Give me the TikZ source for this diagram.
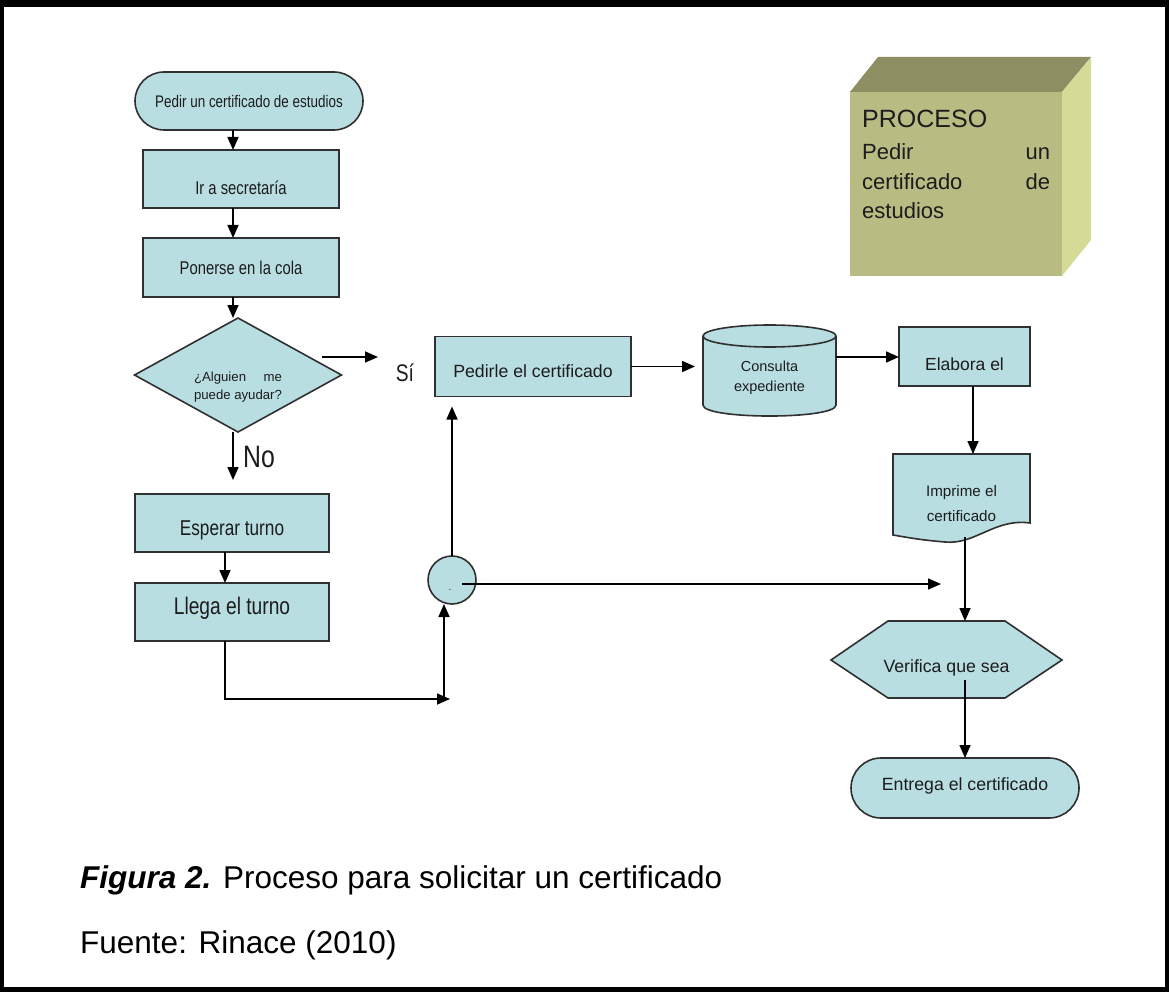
\documentclass[tikz,border=0pt]{standalone}
\usepackage{fontspec}
\setmainfont{Liberation Sans}
\newfontfamily\condfont{Liberation Sans}[FakeStretch=0.8]
\usetikzlibrary{arrows.meta}
\pgfdeclarelayer{back}
\pgfdeclarelayer{background}
\pgfsetlayers{back,background,main}
\definecolor{boxfill}{RGB}{185,222,226}
\definecolor{boxline}{RGB}{48,48,48}
\definecolor{txt}{RGB}{28,28,28}
\definecolor{cubefront}{RGB}{184,188,131}
\definecolor{cubetop}{RGB}{141,142,97}
\definecolor{cubeside}{RGB}{213,219,151}
\newcommand\fsz[1]{\fontsize{#1}{#1}\selectfont}

\begin{document}
\begin{tikzpicture}[x=1pt,y=-1pt,
  shapeline/.style={draw=boxline, fill=boxfill, line width=1.6pt},
  box/.style={shapeline, rectangle, inner sep=0pt, outer sep=0pt},
  term/.style={shapeline, rectangle, inner sep=0pt, outer sep=0pt},
  area/.style={rectangle, inner sep=0pt, outer sep=0pt},
  arr/.style={draw=black, line width=1.6pt, -{Triangle[length=13pt,width=11pt]}},
  ctxt/.style={font=\condfont, text=txt, inner sep=0pt},
  atxt/.style={text=txt, inner sep=0pt},
  cubetxt/.style={anchor=base west, inner sep=0pt, text=txt}]
\useasboundingbox (0,0) rectangle (1169,992);

% page frame
\begin{pgfonlayer}{back}
  \fill[black] (0,0) rectangle (1169,992);
  \fill[white] (4,7) rectangle (1165,987);
\end{pgfonlayer}

% process block in 3D
\fill[cubefront] (850,92) rectangle (1062,276);
\fill[cubetop] (850,92) -- (878,57) -- (1091,57) -- (1062,92) -- cycle;
\fill[cubeside] (1062,92) -- (1091,57) -- (1091,240) -- (1062,276) -- cycle;
\node[cubetxt, font=\fsz{25}] (proc) at (862,128) {PROCESO};
\node[cubetxt, font=\fsz{22}] (proc1) at (862,160) {\hbox to 188pt{Pedir\hfill un}};
\node[cubetxt, font=\fsz{22}] (proc2) at (862,190) {\hbox to 188pt{certificado\hfill de}};
\node[cubetxt, font=\fsz{22}] (proc3) at (862,219) {estudios};

% left column
\node[term, rounded corners=29pt, minimum width=228pt, minimum height=58pt,
  label={[ctxt]center:{\fsz{16.8}Pedir un certificado de estudios}}] (start) at (249,101) {};
\node[box, minimum width=196pt, minimum height=58pt,
  label={[ctxt,yshift=-9pt]center:{\fsz{18.5}Ir a secretaría}}] (ir) at (241,179) {};
\node[box, minimum width=196pt, minimum height=59pt,
  label={[ctxt]center:{\fsz{18.5}Ponerse en la cola}}] (pon) at (241,267.5) {};
\node[area, minimum width=207pt, minimum height=114pt,
  label={[atxt,yshift=-12.5pt]center:{\vbox{\fontsize{13.2}{18}\selectfont
    \hbox to 88pt{¿Alguien\hfill me}\hbox to 88pt{\hfill puede ayudar?\hfill}}}}] (dia) at (238,375) {};
\node[box, minimum width=194pt, minimum height=58pt,
  label={[ctxt,yshift=-7pt]center:{\fsz{21.5}Esperar turno}}] (esp) at (232,523) {};
\node[box, minimum width=194pt, minimum height=58pt,
  label={[ctxt,yshift=4pt]center:{\fsz{24}Llega el turno}}] (lle) at (232,612) {};
\node[ctxt] (si) at (405,373) {\fsz{24}Sí};
\node[ctxt] (no) at (259,457) {\fsz{31}No};

% connector circle
\node[shapeline, circle, minimum size=48pt, inner sep=0pt, outer sep=0pt,
  label={[atxt,yshift=-10pt,xshift=-2pt]center:{\fsz{10}.}}] (conn) at (452,580) {};

% right part
\node[box, minimum width=196pt, minimum height=60pt,
  label={[atxt,yshift=-5pt]center:{\fsz{17.7}Pedirle el certificado}}] (pedir) at (533,366.5) {};
\node[area, minimum width=133pt, minimum height=91pt,
  label={[atxt,align=center,font=\fontsize{14.5}{20}\selectfont,yshift=-7.5pt]center:Consulta\\expediente}] (cyl) at (769.5,370.5) {};
\node[box, minimum width=131pt, minimum height=59pt,
  label={[atxt,yshift=-8pt]center:{\fsz{17.5}Elabora el}}] (elab) at (964.5,356.5) {};
\node[area, minimum width=137pt, minimum height=83pt,
  label={[atxt,align=center,font=\fontsize{15.2}{25}\selectfont,yshift=-8.5pt]center:Imprime el\\certificado}] (doc) at (961.5,495.5) {};
\node[area, minimum width=231pt, minimum height=77pt,
  label={[atxt,yshift=-8pt]center:{\fsz{17.7}Verifica que sea}}] (hex) at (946.5,659.5) {};
\node[term, rounded corners=30pt, minimum width=228pt, minimum height=60pt,
  label={[atxt,yshift=2pt]center:{\fsz{17.7}Entrega el certificado}}] (ent) at (965,788) {};

% outlines of the special symbols
\begin{pgfonlayer}{background}
  \draw[shapeline] (dia.west) -- (dia.north) -- (dia.east) -- (dia.south) -- cycle;
  \path[shapeline] (703,336) -- (703,405) .. controls (703,419.7) and (836,419.7) .. (836,405) -- (836,336);
  \draw[shapeline] (769.5,336) ellipse [x radius=66.5, y radius=11];
  \draw[shapeline] (893,454) -- (1030,454) -- (1030,523)
     .. controls (995,518) and (975,545) .. (945,542)
     .. controls (920,540) and (905,537) .. (893,535) -- cycle;
  \draw[shapeline] (831,660) -- (888,621) -- (1005,621) -- (1062,660) -- (1005,698) -- (888,698) -- cycle;
\end{pgfonlayer}

% guide coordinates for the connectors
\coordinate (colA) at (233,0);
\coordinate (colB) at (225,0);
\coordinate (colE) at (973,0);
\coordinate (colR) at (965,0);
\coordinate (rowC) at (0,357);
\coordinate (joinB) at (450,699);
\coordinate (upB) at (444,699);
\coordinate (siA) at (322,357);
\coordinate (siB) at (378,357);
\coordinate (hexout) at (965,680);
\coordinate (tipR) at (941,584);

% connectors
\draw[arr] (start.south -| colA) -- (ir.north -| colA);
\draw[arr] (ir.south -| colA) -- (pon.north -| colA);
\draw[arr] (pon.south -| colA) -- (dia.north -| colA);
\draw[arr, shorten >=14pt] (dia.south -| colA) -- (esp.north -| colA);
\draw[arr] (esp.south -| colB) -- (lle.north -| colB);
\draw[arr] (lle.south -| colB) |- (joinB);
\draw[arr] (upB) -- (conn.south -| upB);
\draw[arr, shorten >=10pt] (conn.north) -- (pedir.south -| conn.north);
\draw[arr] ([xshift=10pt,yshift=-4pt]conn.center) -- (tipR);
\draw[arr] (siA) -- (siB);
\draw[arr, shorten >=8pt] (pedir.east) -- (pedir.east -| cyl.west);
\draw[arr] (cyl.east |- rowC) -- (elab.west |- rowC);
\draw[arr] (elab.south -| colE) -- (doc.north -| colE);
\draw[arr] (doc.south -| colR) -- (hex.north -| colR);
\draw[arr] (hexout) -- (ent.north -| colR);

% caption
\node[anchor=base west, inner sep=0pt, font=\fsz{31.5}] (cap) at (80,888)
  {\textbf{\textit{Figura 2.}} Proceso para solicitar un certificado};
\node[anchor=base west, inner sep=0pt, font=\fsz{31.5}] (src) at (80,953)
  {Fuente: Rinace (2010)};
\end{tikzpicture}
\end{document}
